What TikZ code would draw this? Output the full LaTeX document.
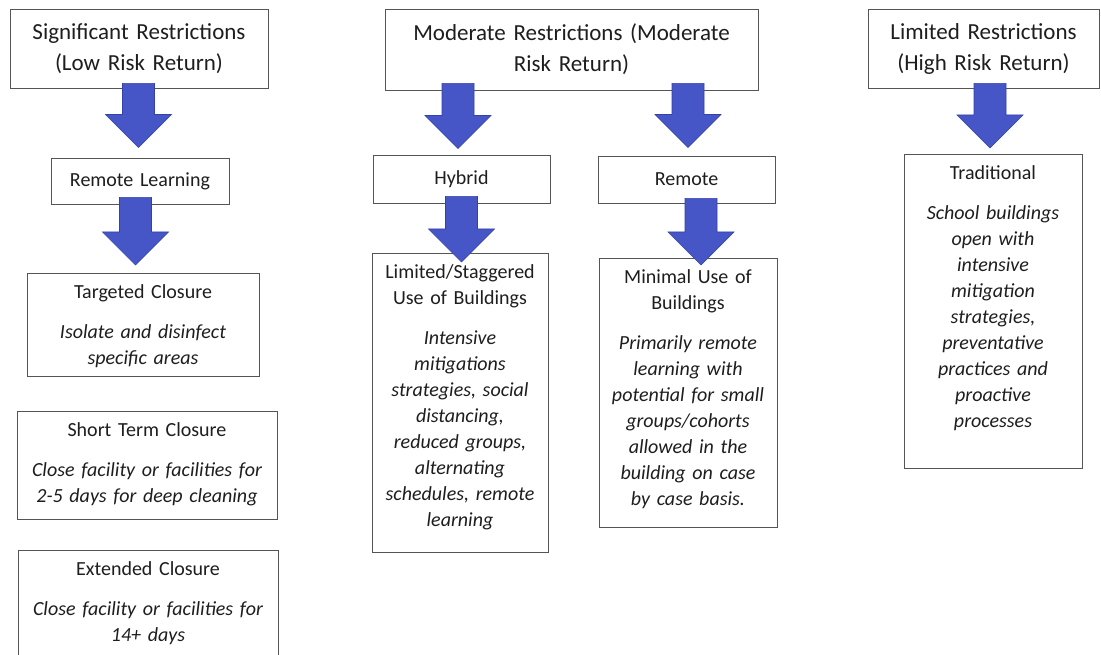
\documentclass[tikz,border=0pt]{standalone}
\usepackage{fontspec}
\setmainfont{Carlito}
\usepackage{tikz}
\usetikzlibrary{positioning, calc}

\definecolor{arrowblue}{RGB}{70,86,198}
\definecolor{arrowedge}{RGB}{52,66,168}
\definecolor{boxline}{RGB}{85,85,85}
\definecolor{inktext}{RGB}{30,30,30}

\begin{document}
\begin{tikzpicture}[x=1pt, y=1pt,
    box/.style={draw=boxline, line width=0.9pt, fill=white, align=center, text=inktext, inner xsep=4pt, inner ysep=5pt},
    titlebox/.style={box, font=\fontsize{23}{31}\selectfont},
    smallbox/.style={box, font=\fontsize{20}{26}\selectfont},
    tallbox/.style={box, anchor=north, font=\fontsize{20}{26}\selectfont, text height=20pt},
    blockarrow/.style={fill=arrowblue, draw=arrowedge, line width=0.6pt,
        to path={let \p1=(\tikztostart), \p2=(\tikztotarget) in
            (\x2-16pt,\y1) -- (\x2+16pt,\y1) -- (\x2+16pt,\y2+33pt) -- (\x2+33pt,\y2+33pt)
            -- (\x2,\y2) -- (\x2-33pt,\y2+33pt) -- (\x2-16pt,\y2+33pt) -- cycle}}]

                \useasboundingbox (0,0) rectangle (1101,-655);
                \clip (0,0) rectangle (1101,-655);

                % Draw the three levels of restriction
                \node[titlebox, text width=250pt, minimum height=79pt] (sig) at (139,-48.5) {Significant Restrictions\\(Low Risk Return)};
                \node[titlebox, text width=365pt, minimum height=81pt] (mod) at (571.5,-49.5) {Moderate Restrictions (Moderate\\Risk Return)};
                \node[titlebox, text width=223pt, minimum height=79pt] (lim) at (983.5,-48.5) {Limited Restrictions\\(High Risk Return)};

                % Draw the learning models
                \node[smallbox, text width=170pt, minimum height=46pt] (rl) at (140,-181) {Remote Learning};
                \node[smallbox, text width=169pt, minimum height=48pt] (hyb) at (461.5,-179) {Hybrid};
                \node[smallbox, text width=169pt, minimum height=47pt] (rem) at (686.5,-179.5) {Remote};

                % Draw the closure boxes under remote learning
                \node[tallbox, text width=224pt, text depth=73pt] (tgt) at (143,-273) {Targeted Closure\\[14pt]\itshape Isolate and disinfect\\specific areas};
                \node[tallbox, text width=252pt, text depth=78pt] (short) at (147,-411) {Short Term Closure\\[14pt]\itshape Close facility or facilities for\\2-5 days for deep cleaning};
                \node[tallbox, text width=252pt, text depth=100pt] (ext) at (148,-550) {Extended Closure\\[14pt]\itshape Close facility or facilities for\\14+ days};

                % Draw the use of buildings boxes
                \node[tallbox, text width=168pt, text depth=269pt] (stag) at (460,-253) {Limited/Staggered\\Use of Buildings\\[14pt]\itshape Intensive\\mitigations\\strategies, social\\distancing,\\reduced groups,\\alternating\\schedules, remote\\learning};
                \node[tallbox, text width=170pt, text depth=239pt] (minu) at (688,-258) {Minimal Use of\\Buildings\\[14pt]\itshape Primarily remote\\learning with\\potential for small\\groups/cohorts\\allowed in the\\building on case\\by case basis.};
                \node[tallbox, text width=170pt, text depth=284pt] (trad) at (993,-154) {Traditional\\[14pt]\itshape School buildings\\open with\\intensive\\mitigation\\strategies,\\preventative\\practices and\\proactive\\processes};

                % Draw the block arrows
                \draw[blockarrow] ([yshift=5pt]sig.south) to ([xshift=-1.5pt,yshift=10pt]rl.north);
                \draw[blockarrow] ([yshift=7pt]rl.south) to ([xshift=-7.5pt,yshift=8pt]tgt.north);
                \draw[blockarrow] ([yshift=7pt]mod.south) to ([xshift=-3.5pt,yshift=6pt]hyb.north);
                \draw[blockarrow] ([yshift=7pt]mod.south) to ([xshift=1.5pt,yshift=8pt]rem.north);
                \draw[blockarrow] ([yshift=7pt]hyb.south) to ([xshift=1.5pt,yshift=-9pt]stag.north);
                \draw[blockarrow] ([yshift=5pt]rem.south) to ([xshift=13pt,yshift=-7pt]minu.north);
                \draw[blockarrow] ([yshift=5pt]lim.south) to ([xshift=-3pt,yshift=6pt]trad.north);
    \end{tikzpicture}
\end{document}
